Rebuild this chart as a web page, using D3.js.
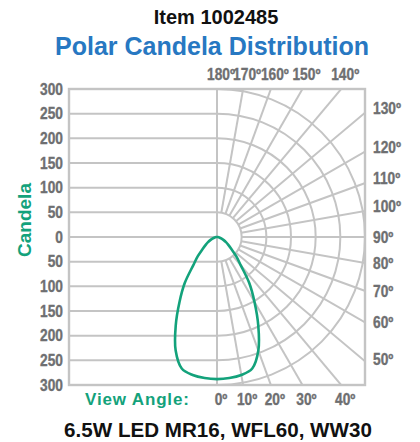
<!DOCTYPE html>
<html>
<head>
<meta charset="utf-8">
<script src="https://cdn.jsdelivr.net/npm/d3@7"></script>
<style>
  html, body { margin: 0; padding: 0; background: #ffffff; }
  svg { display: block; }
</style>
</head>
<body>
<svg id="chart" width="420" height="442"></svg>
<script>
// ---- data ----
const titleTop = "Item 1002485";
const titleMain = "Polar Candela Distribution";
const titleBottom = "6.5W LED MR16, WFL60, WW30";
const axisTitle = "Candela";
const viewLabel = "View Angle:";
const candelaTicks = [0, 50, 100, 150, 200, 250, 300];
const gridAngles = [10, 20, 30, 40, 50, 60, 70, 80, 90, 100, 110, 120, 130, 140, 150, 160, 170];
const topAngleLabels = [180, 170, 160, 150, 140];
const rightAngleLabels = [130, 120, 110, 100, 90, 80, 70, 60, 50];
const bottomAngleLabels = [0, 10, 20, 30, 40];
const viewAngles = [0, 5, 10, 15, 20, 25, 30, 35, 40, 45, 50, 55, 60, 65, 70, 75, 80, 85, 90];
const candelaValues = [288, 287, 284, 276, 245, 198, 152, 114, 75, 55, 38, 28, 21, 15, 10, 6, 3.5, 1.5, 0];

// ---- layout ----
const cx = 217, cy = 237;
const gridColor = "#c4c4c4";
const labelColor = "#6e6f71";
const green = "#13a27b";
const blue = "#2778c2";
const sans = "'Liberation Sans', Arial, Helvetica, sans-serif";
const condense = 0.86;

const r = d3.scaleLinear().domain([0, 300]).range([0, 148]);
const R = r(300);
const fLeft = cx - R, fRight = cx + R, fTop = cy - R, fBottom = cy + R;
const rad = a => a * Math.PI / 180;

const svg = d3.select("#chart");

svg.append("defs").append("clipPath").attr("id", "frameClip")
  .append("rect").attr("x", fLeft).attr("y", fTop).attr("width", fRight - fLeft).attr("height", fBottom - fTop);

const grid = svg.append("g").attr("fill", "none").attr("stroke", gridColor).attr("stroke-width", 2);

// left half: horizontal candela lines (above and below center)
candelaTicks.filter(v => v < 300).forEach(v => {
  [-1, 1].forEach(s => {
    if (v === 0 && s === 1) return;
    grid.append("line")
      .attr("x1", fLeft).attr("x2", cx)
      .attr("y1", cy + s * r(v)).attr("y2", cy + s * r(v));
  });
});

// right half: arcs
candelaTicks.filter(v => v > 0).forEach(v => {
  const p = d3.path();
  p.arc(cx, cy, r(v), -Math.PI / 2, Math.PI / 2, false);
  grid.append("path").attr("d", p.toString());
});

// radial lines, from the inner circle outward, clipped to the frame
const radial = grid.append("g").attr("clip-path", "url(#frameClip)");
gridAngles.forEach(a => {
  const s = Math.sin(rad(a)), c = Math.cos(rad(a));
  radial.append("line")
    .attr("x1", cx + r(50) * s).attr("y1", cy + r(50) * c)
    .attr("x2", cx + r(600) * s).attr("y2", cy + r(600) * c);
});

// vertical center line (0° / 180°)
grid.append("line").attr("x1", cx).attr("x2", cx).attr("y1", fTop).attr("y2", fBottom);

// frame
grid.append("rect").attr("x", fLeft).attr("y", fTop)
  .attr("width", fRight - fLeft).attr("height", fBottom - fTop).attr("stroke-width", 2.4);

// ---- candela curve ----
const pts = [];
for (let i = viewAngles.length - 1; i >= 0; i--) pts.push({ a: -viewAngles[i], v: candelaValues[i] });
for (let i = 1; i < viewAngles.length; i++) pts.push({ a: viewAngles[i], v: candelaValues[i] });

const line = d3.lineRadial()
  .angle(d => Math.PI - rad(d.a))
  .radius(d => r(d.v))
  .curve(d3.curveCatmullRom.alpha(0.5));

svg.append("path")
  .attr("transform", `translate(${cx},${cy})`)
  .attr("d", line(pts))
  .attr("fill", "none")
  .attr("stroke", green)
  .attr("stroke-width", 2.6);

// ---- texts ----
const deg = "\u00BA";
const labels = svg.append("g").attr("font-family", sans).attr("font-weight", "bold")
  .attr("font-size", 16).attr("fill", labelColor)
  .attr("stroke", labelColor).attr("stroke-width", 0.35);
function label(x, y, txt, anchor, dy) {
  labels.append("text")
    .attr("transform", `translate(${x},${y}) scale(${condense},1)`)
    .attr("text-anchor", anchor)
    .attr("dy", dy || 0)
    .text(txt);
}

// left candela labels
candelaTicks.forEach(v => {
  [-1, 1].forEach(s => {
    if (v === 0 && s === 1) return;
    label(63, cy + s * r(v), v, "end", "0.36em");
  });
});

// top angle labels
topAngleLabels.forEach(a => {
  const x = cx + (cy - fTop) * Math.tan(rad(180 - a));
  label(x + 4, 80, a + deg, "middle");
});

// right angle labels (baseline near where each ray meets the frame)
rightAngleLabels.forEach(a => {
  const t = Math.tan(rad(a - 90));
  let y = cy - (fRight - cx) * t + (t > 0 ? 1 : 6);
  y = Math.max(fTop + 18, Math.min(fBottom - 20, y));
  label(373, y, a + deg, "start");
});

// bottom angle labels
bottomAngleLabels.forEach(a => {
  const x = cx + (fBottom - cy) * Math.tan(rad(a));
  label(x + 4, 405, a + deg, "middle");
});

// titles
svg.append("text").attr("x", 216).attr("y", 24).attr("text-anchor", "middle")
  .attr("font-family", sans).attr("font-weight", "bold").attr("font-size", 20)
  .attr("fill", "#111111").text(titleTop);
svg.append("text").attr("x", 212).attr("y", 55).attr("text-anchor", "middle")
  .attr("font-family", sans).attr("font-weight", "bold").attr("font-size", 25)
  .attr("fill", blue).text(titleMain);
svg.append("text").attr("x", 218).attr("y", 437).attr("text-anchor", "middle")
  .attr("font-family", sans).attr("font-weight", "bold").attr("font-size", 20.6)
  .attr("fill", "#111111").text(titleBottom);

// axis titles
svg.append("text").attr("transform", "translate(31,220) rotate(-90)")
  .attr("text-anchor", "middle")
  .attr("font-family", sans).attr("font-weight", "bold").attr("font-size", 19)
  .attr("fill", green).text(axisTitle);
svg.append("text").attr("x", 85).attr("y", 405)
  .attr("font-family", sans).attr("font-weight", "bold").attr("font-size", 17)
  .attr("letter-spacing", 0.85)
  .attr("fill", green).text(viewLabel);
</script>
</body>
</html>
